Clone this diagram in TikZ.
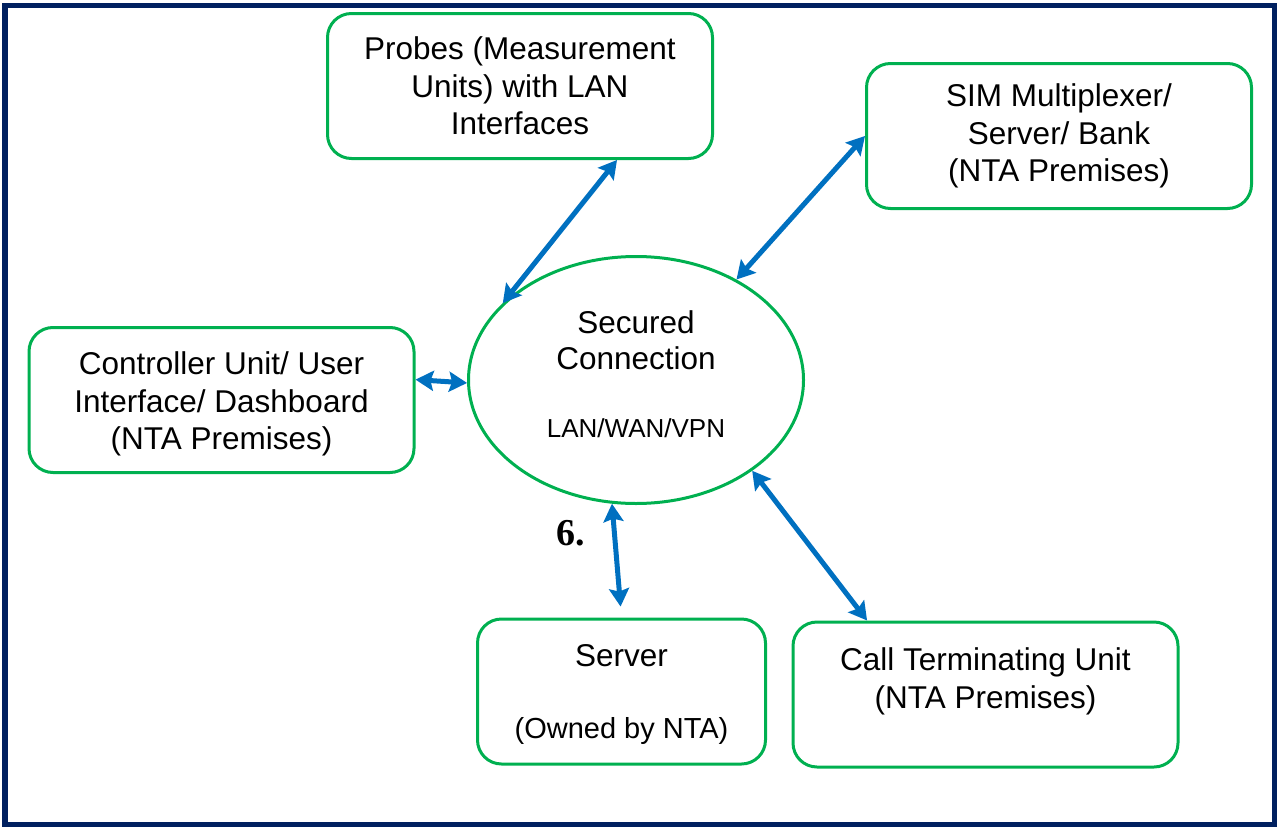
\documentclass[tikz,border=0pt]{standalone}
\usepackage{fontspec}
\setmainfont{Liberation Sans}
\newfontfamily\figfont{Liberation Serif}
\usetikzlibrary{arrows.meta,shapes.geometric,calc}

\definecolor{framenavy}{HTML}{002060}
\definecolor{unitgreen}{HTML}{00B050}
\definecolor{linkblue}{HTML}{0070C0}

\tikzset{
  unitfont/.style={font=\fontsize{31.5}{37.5}\selectfont},
  unit/.style={draw=unitgreen,line width=3pt,rounded corners=24pt,align=center,
    minimum width=385pt,minimum height=145pt,unitfont},
  hub/.style={ellipse,draw=unitgreen,line width=3pt,align=center,
    minimum width=335pt,minimum height=247pt},
  link/.style={color=linkblue,line width=5pt,
    {Stealth[length=18pt,width=20pt,inset=3pt]}-{Stealth[length=18pt,width=20pt,inset=3pt]}}
}

\begin{document}
\begin{tikzpicture}[x=1pt,y=-1pt]
  \useasboundingbox (0,0) rectangle (1282,827);
  \draw[framenavy,line width=5.5pt] (5,5.5) rectangle (1274.5,824.5);

  \node[hub,label={[yshift=6pt,align=center,font=\fontsize{31.5}{36}\selectfont]center:
    Secured\\Connection\\[32pt]{\fontsize{26}{30}\selectfont LAN/WAN/VPN}}] (net) at (636,380) {};
  \node[unit] (probes) at (520,86) {Probes (Measurement\\Units) with LAN\\Interfaces};
  \node[unit] (sim) at (1059,136) {SIM Multiplexer/\\Server/ Bank\\(NTA Premises)};
  \node[unit,label={[yshift=-4pt,align=center,unitfont]center:Controller Unit/ User\\Interface/ Dashboard\\(NTA Premises)}]
    (ctrl) at (221.5,400) {};
  \node[unit,minimum width=288pt,label={[yshift=-3pt,align=center,unitfont]center:Server\\[34pt]{\fontsize{29}{34}\selectfont (Owned by NTA)}}]
    (server) at (621.5,691.5) {};
  \node[unit,label={[yshift=13pt,align=center,unitfont]center:Call Terminating Unit\\(NTA Premises)}]
    (call) at (985.5,694.5) {};
  \node[font=\figfont\bfseries\fontsize{38}{40}\selectfont] (six) at (571,533) {6.};

  \path[link]
    (net.150) edge ($(probes.south)!0.5!(probes.south east)$)
    (net.45) edge (sim.west)
    (ctrl.6) edge (net.181)
    (net.-101) edge[shorten >=11pt] (server.north)
    (net.-38) edge (call.148);
\end{tikzpicture}
\end{document}
